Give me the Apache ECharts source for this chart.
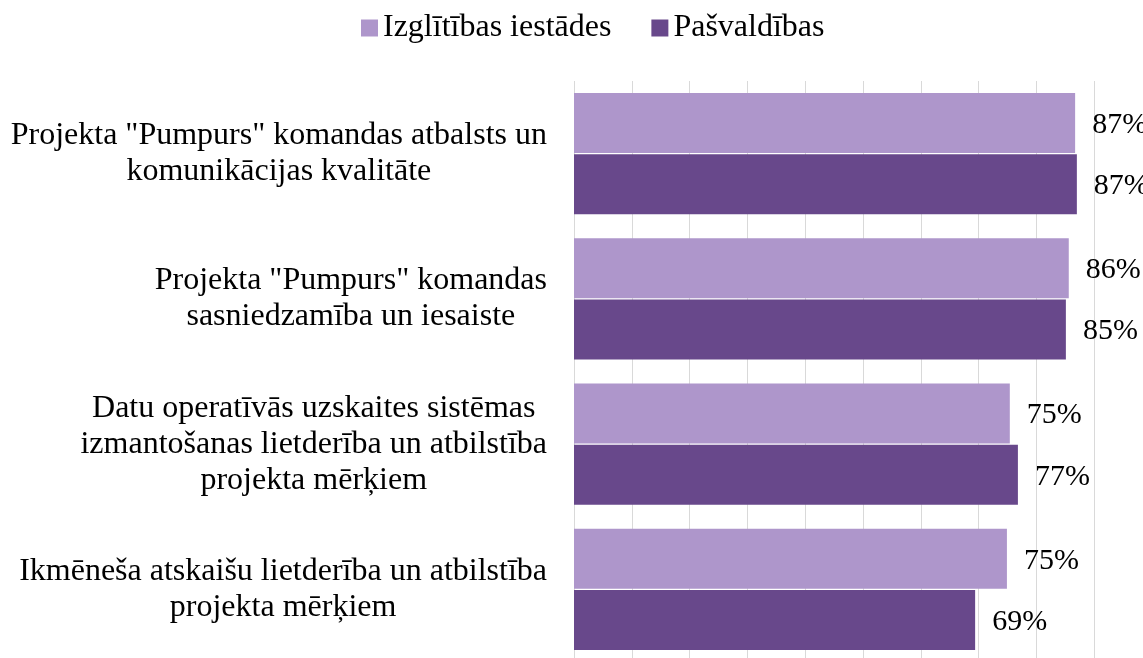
<!DOCTYPE html>
<html>
<head>
<meta charset="utf-8">
<script src="https://cdn.jsdelivr.net/npm/echarts@6/dist/echarts.min.js"></script>
<style>
  html, body { margin: 0; padding: 0; background: #fff; }
  #chart { width: 1143px; height: 658px; }
</style>
</head>
<body>
<div id="chart"></div>
<script>
// categories (top to bottom) and values in %
const categories = [
  'Projekta "Pumpurs" komandas atbalsts un\nkomunikācijas kvalitāte',
  'Projekta "Pumpurs" komandas\nsasniedzamība un iesaiste',
  'Datu operatīvās uzskaites sistēmas\nizmantošanas lietderība un atbilstība\nprojekta mērķiem',
  'Ikmēneša atskaišu lietderība un atbilstība\nprojekta mērķiem'
]
const seriesNames = ['Izglītības iestādes', 'Pašvaldības']
const izglitibas = [86.7, 85.6, 75.4, 74.9]
const pasvaldibas = [87.0, 85.1, 76.8, 69.4]

const font = '"Liberation Serif", "Times New Roman", serif'
const colors = ['#ae96cb', '#68488b']

let myChart = echarts.init(document.getElementById('chart'))

const valueLabel = {
  show: true,
  position: 'right',
  distance: 17,
  offset: [0, 2],
  fontFamily: font,
  fontSize: 30,
  color: '#000',
  formatter: p => Math.round(p.value) + '%'
}

let option = {
  animation: false,
  legend: {
    top: 7,
    left: 356,
    itemWidth: 17,
    itemHeight: 17,
    itemGap: 40,
    icon: 'rect',
    textStyle: { fontFamily: font, fontSize: 32, color: '#000' },
    data: seriesNames
  },
  // plot area runs a little past the right edge (100% is off-canvas)
  grid: {
    left: 574,
    top: 81,
    right: -9,
    bottom: -4,
    outerBoundsMode: 'none'
  },
  xAxis: {
    type: 'value',
    min: 0,
    max: 100,
    interval: 10,
    axisLabel: { show: false },
    axisLine: { show: false },
    axisTick: { show: false },
    splitLine: { show: true, lineStyle: { color: '#d9d9d9', width: 1 } }
  },
  yAxis: {
    type: 'category',
    inverse: true,
    data: categories,
    axisLine: { show: false },
    axisTick: { show: false },
    axisLabel: {
      margin: 27,
      align: 'right',
      formatter: v => v.split('\n').map(l => '{c|' + l + '}').join('\n'),
      rich: {
        c: { align: 'center', fontFamily: font, fontSize: 32, lineHeight: 36, color: '#000' }
      }
    }
  },
  series: [
    {
      name: seriesNames[0],
      type: 'bar',
      barWidth: 60,
      barGap: '2%',
      itemStyle: { color: colors[0] },
      label: valueLabel,
      data: izglitibas
    },
    {
      name: seriesNames[1],
      type: 'bar',
      barWidth: 60,
      barGap: '2%',
      itemStyle: { color: colors[1] },
      label: valueLabel,
      data: pasvaldibas
    }
  ]
}
myChart.setOption(option)
</script>
</body>
</html>
